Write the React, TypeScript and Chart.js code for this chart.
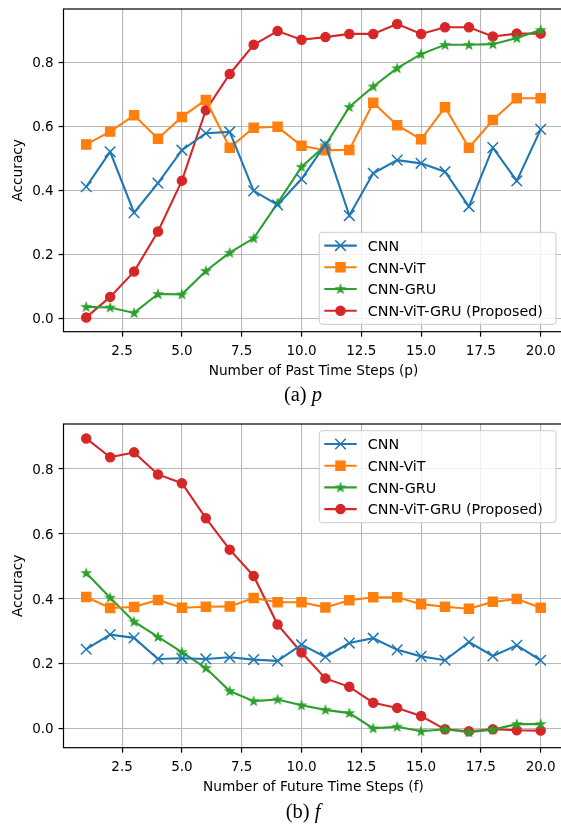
import React, { useEffect, useRef } from "react";
import { Chart, registerables } from "chart.js";

Chart.register(...registerables);

// ---------- data ----------
const STEPS = [1, 2, 3, 4, 5, 6, 7, 8, 9, 10, 11, 12, 13, 14, 15, 16, 17, 18, 19, 20];

const PAST_CNN = [0.411, 0.52, 0.33, 0.422, 0.525, 0.578, 0.582, 0.398, 0.354, 0.435, 0.543, 0.321, 0.453, 0.494, 0.484, 0.458, 0.349, 0.533, 0.429, 0.59];
const PAST_VIT = [0.543, 0.583, 0.634, 0.561, 0.629, 0.682, 0.533, 0.595, 0.598, 0.539, 0.525, 0.526, 0.673, 0.603, 0.559, 0.659, 0.533, 0.619, 0.687, 0.687];
const PAST_GRU = [0.036, 0.034, 0.017, 0.076, 0.075, 0.148, 0.205, 0.25, 0.36, 0.473, 0.54, 0.66, 0.724, 0.781, 0.825, 0.854, 0.854, 0.856, 0.875, 0.9];
const PAST_PROP = [0.003, 0.067, 0.146, 0.271, 0.43, 0.65, 0.763, 0.854, 0.897, 0.87, 0.878, 0.888, 0.888, 0.919, 0.888, 0.909, 0.909, 0.88, 0.889, 0.889];

const FUT_CNN = [0.244, 0.289, 0.279, 0.214, 0.216, 0.214, 0.219, 0.212, 0.208, 0.258, 0.22, 0.263, 0.278, 0.242, 0.222, 0.21, 0.266, 0.223, 0.256, 0.21];
const FUT_VIT = [0.405, 0.371, 0.374, 0.396, 0.372, 0.375, 0.376, 0.402, 0.389, 0.389, 0.373, 0.395, 0.404, 0.404, 0.383, 0.375, 0.369, 0.39, 0.399, 0.372];
const FUT_GRU = [0.479, 0.403, 0.329, 0.282, 0.235, 0.186, 0.115, 0.084, 0.089, 0.071, 0.057, 0.047, 0.0, 0.005, -0.009, -0.003, -0.012, -0.004, 0.013, 0.013];
const FUT_PROP = [0.894, 0.836, 0.851, 0.783, 0.756, 0.648, 0.551, 0.47, 0.32, 0.234, 0.154, 0.128, 0.079, 0.063, 0.038, -0.003, -0.009, -0.003, -0.006, -0.007];

const SERIES_LABELS = ["CNN", "CNN-ViT", "CNN-GRU", "CNN-ViT-GRU (Proposed)"];
const COLORS = ["#1f77b4", "#ff7f0e", "#2ca02c", "#d62728"];

const X_TICKS = [2.5, 5, 7.5, 10, 12.5, 15, 17.5, 20];
const Y_TICKS = [0, 0.2, 0.4, 0.6, 0.8];

const SANS = '"DejaVu Sans", "Noto Sans", sans-serif';
const SERIF = '"Liberation Serif", "DejaVu Serif", serif';

const CANVAS_W = 580;
const AREA_LEFT = 63.5;
const AREA_RIGHT = 563.4;

function makeStar(color: string): HTMLCanvasElement {
  const c = document.createElement("canvas");
  c.width = 14;
  c.height = 14;
  const ctx = c.getContext("2d")!;
  const cx = 7, cy = 7.3, R = 4.3, r = R * 0.382;
  ctx.beginPath();
  for (let i = 0; i < 10; i++) {
    const rad = i % 2 === 0 ? R : r;
    const a = -Math.PI / 2 + (i * Math.PI) / 5;
    const x = cx + rad * Math.cos(a);
    const y = cy + rad * Math.sin(a);
    if (i === 0) ctx.moveTo(x, y);
    else ctx.lineTo(x, y);
  }
  ctx.closePath();
  ctx.fillStyle = color;
  ctx.fill();
  ctx.lineWidth = 1.2;
  ctx.lineJoin = "miter";
  ctx.strokeStyle = color;
  ctx.stroke();
  return c;
}

interface PanelSpec {
  series: number[][];
  yMin: number;
  yMax: number;
  height: number;
  areaTop: number;
  areaBottom: number;
  xTitle: string;
  capMain: string;
  capItalic: string;
  capBaseline: number;
  legendTop: number;
}

function drawMarker(ctx: CanvasRenderingContext2D, idx: number, x: number, y: number, star: HTMLCanvasElement) {
  const color = COLORS[idx];
  ctx.save();
  ctx.fillStyle = color;
  ctx.strokeStyle = color;
  if (idx === 0) {
    const d = 7.5 * Math.SQRT1_2;
    ctx.lineWidth = 1.5;
    ctx.beginPath();
    ctx.moveTo(x - d, y - d);
    ctx.lineTo(x + d, y + d);
    ctx.moveTo(x - d, y + d);
    ctx.lineTo(x + d, y - d);
    ctx.stroke();
  } else if (idx === 1) {
    const h = 6.5 * Math.SQRT1_2;
    ctx.lineWidth = 1.3;
    ctx.fillRect(x - h, y - h, 2 * h, 2 * h);
    ctx.strokeRect(x - h, y - h, 2 * h, 2 * h);
  } else if (idx === 2) {
    ctx.drawImage(star, x - star.width / 2, y - star.height / 2);
  } else {
    ctx.lineWidth = 1.3;
    ctx.beginPath();
    ctx.arc(x, y, 4.6, 0, Math.PI * 2);
    ctx.fill();
    ctx.stroke();
  }
  ctx.restore();
}

function buildChart(canvas: HTMLCanvasElement, spec: PanelSpec, star: HTMLCanvasElement) {
  const styles: any[] = ["crossRot", "rect", star, "circle"];
  const radii = [7.5, 6.5, 5, 4.6];
  const pbw = [1.5, 1.3, 1, 1.3];
  const datasets = spec.series.map((vals, i) => ({
    label: SERIES_LABELS[i],
    data: STEPS.map((s, j) => ({ x: s, y: vals[j] })),
    borderColor: COLORS[i],
    backgroundColor: COLORS[i],
    pointBackgroundColor: COLORS[i],
    pointBorderColor: COLORS[i],
    pointStyle: styles[i],
    pointRadius: radii[i],
    pointHoverRadius: radii[i],
    pointBorderWidth: pbw[i],
    borderWidth: 2.1,
    tension: 0,
    fill: false,
  }));

  const overlay = {
    id: "overlay",
    afterDraw(chart: any) {
      const ctx: CanvasRenderingContext2D = chart.ctx;
      const area = chart.chartArea;
      const xs = chart.scales.x;
      const ys = chart.scales.y;
      ctx.save();
      // spines
      ctx.strokeStyle = "#000";
      ctx.lineWidth = 1.2;
      ctx.strokeRect(area.left, area.top, area.right - area.left, area.bottom - area.top);

      // tick labels
      ctx.fillStyle = "#000";
      ctx.font = `13.5px ${SANS}`;
      ctx.textBaseline = "alphabetic";
      ctx.textAlign = "center";
      X_TICKS.forEach((v) => {
        ctx.fillText(v.toFixed(1), xs.getPixelForValue(v), area.bottom + 23);
      });
      ctx.textAlign = "right";
      Y_TICKS.forEach((v) => {
        ctx.fillText(v.toFixed(1), area.left - 9.8, ys.getPixelForValue(v) + 4.9);
      });

      // axis titles
      ctx.font = `13.7px ${SANS}`;
      ctx.textAlign = "center";
      ctx.fillText(spec.xTitle, (area.left + area.right) / 2, area.bottom + 43);
      ctx.save();
      ctx.translate(21.5, (area.top + area.bottom) / 2);
      ctx.rotate(-Math.PI / 2);
      ctx.fillText("Accuracy", 0, 0);
      ctx.restore();

      // caption
      ctx.font = `20.5px ${SERIF}`;
      const w1 = ctx.measureText(spec.capMain).width;
      ctx.font = `italic 20.5px ${SERIF}`;
      const w2 = ctx.measureText(spec.capItalic).width;
      const cx0 = 303 - (w1 + w2) / 2;
      ctx.textAlign = "left";
      ctx.font = `20.5px ${SERIF}`;
      ctx.fillText(spec.capMain, cx0, spec.capBaseline);
      ctx.font = `italic 20.5px ${SERIF}`;
      ctx.fillText(spec.capItalic, cx0 + w1, spec.capBaseline);

      // legend
      const lx0 = 319.3, lx1 = 556, ly0 = spec.legendTop, ly1 = spec.legendTop + 92;
      const rr = 3;
      ctx.beginPath();
      ctx.moveTo(lx0 + rr, ly0);
      ctx.lineTo(lx1 - rr, ly0);
      ctx.arcTo(lx1, ly0, lx1, ly0 + rr, rr);
      ctx.lineTo(lx1, ly1 - rr);
      ctx.arcTo(lx1, ly1, lx1 - rr, ly1, rr);
      ctx.lineTo(lx0 + rr, ly1);
      ctx.arcTo(lx0, ly1, lx0, ly1 - rr, rr);
      ctx.lineTo(lx0, ly0 + rr);
      ctx.arcTo(lx0, ly0, lx0 + rr, ly0, rr);
      ctx.closePath();
      ctx.fillStyle = "rgba(255,255,255,0.8)";
      ctx.fill();
      ctx.strokeStyle = "#cccccc";
      ctx.lineWidth = 1;
      ctx.stroke();

      chart.data.datasets.forEach((ds: any, i: number) => {
        const y = ly0 + 13.3 + i * 21.7;
        ctx.strokeStyle = COLORS[i];
        ctx.lineWidth = 2.1;
        ctx.beginPath();
        ctx.moveTo(324.3, y);
        ctx.lineTo(356.7, y);
        ctx.stroke();
        drawMarker(ctx, i, 340.5, y, star);
        ctx.fillStyle = "#000";
        ctx.font = `14.3px ${SANS}`;
        ctx.textAlign = "left";
        ctx.textBaseline = "alphabetic";
        ctx.fillText(ds.label, 367.7, y + 5.2);
      });
      ctx.restore();
    },
  };

  return new Chart(canvas, {
    type: "line",
    data: { datasets },
    options: {
      animation: false,
      responsive: false,
      devicePixelRatio: 1,
      events: [],
      layout: {
        padding: { left: 0, top: spec.areaTop, right: CANVAS_W - AREA_RIGHT, bottom: 0 },
      },
      plugins: { legend: { display: false }, tooltip: { enabled: false }, title: { display: false } },
      scales: {
        x: {
          type: "linear",
          min: 0.05,
          max: 20.95,
          afterBuildTicks: (s: any) => {
            s.ticks = X_TICKS.map((v) => ({ value: v }));
          },
          afterFit: (s: any) => {
            s.height = spec.height - spec.areaBottom;
          },
          ticks: { display: false, autoSkip: false },
          grid: { color: "#b8b8b8", lineWidth: 1.1, tickColor: "#000", tickLength: 5, tickWidth: 1.2 } as any,
          border: { display: false },
        },
        y: {
          type: "linear",
          min: spec.yMin,
          max: spec.yMax,
          afterBuildTicks: (s: any) => {
            s.ticks = Y_TICKS.map((v) => ({ value: v }));
          },
          afterFit: (s: any) => {
            s.width = AREA_LEFT;
          },
          ticks: { display: false, autoSkip: false },
          grid: { color: "#b8b8b8", lineWidth: 1.1, tickColor: "#000", tickLength: 5, tickWidth: 1.2 } as any,
          border: { display: false },
        },
      },
    } as any,
    plugins: [overlay],
  });
}

const PANEL_A: PanelSpec = {
  series: [PAST_CNN, PAST_VIT, PAST_GRU, PAST_PROP],
  yMin: -0.0416,
  yMax: 0.9658,
  height: 415,
  areaTop: 7.3,
  areaBottom: 331.7,
  xTitle: "Number of Past Time Steps (p)",
  capMain: "(a) ",
  capItalic: "p",
  capBaseline: 401,
  legendTop: 232.3,
};

const PANEL_B: PanelSpec = {
  series: [FUT_CNN, FUT_VIT, FUT_GRU, FUT_PROP],
  yMin: -0.0597,
  yMax: 0.9385,
  height: 410,
  areaTop: 8.3,
  areaBottom: 332.7,
  xTitle: "Number of Future Time Steps (f)",
  capMain: "(b) ",
  capItalic: "f",
  capBaseline: 403,
  legendTop: 15.7,
};

export default function App() {
  const refA = useRef<HTMLCanvasElement>(null);
  const refB = useRef<HTMLCanvasElement>(null);

  useEffect(() => {
    const star = makeStar(COLORS[2]);
    const a = buildChart(refA.current!, PANEL_A, star);
    const b = buildChart(refB.current!, PANEL_B, star);
    return () => {
      a.destroy();
      b.destroy();
    };
  }, []);

  return (
    <div
      style={{
        position: "absolute",
        left: 0,
        top: 0,
        width: 561,
        height: 825,
        overflow: "hidden",
        background: "#fff",
      }}
    >
      <canvas
        ref={refA}
        width={CANVAS_W}
        height={415}
        style={{ position: "absolute", left: 0, top: 0, width: CANVAS_W, height: 415 }}
      />
      <canvas
        ref={refB}
        width={CANVAS_W}
        height={410}
        style={{ position: "absolute", left: 0, top: 415, width: CANVAS_W, height: 410 }}
      />
    </div>
  );
}
